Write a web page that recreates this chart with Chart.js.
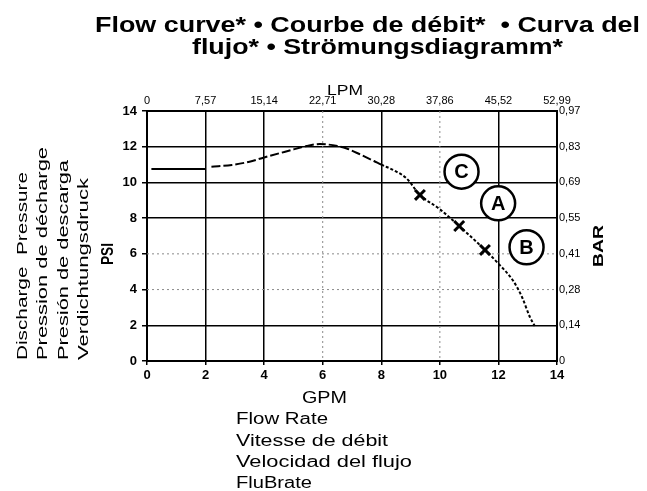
<!DOCTYPE html>
<html>
<head>
<meta charset="utf-8">
<script src="https://cdn.jsdelivr.net/npm/chart.js@4"></script>
<style>
body{margin:0;background:#fff}
</style>
</head>
<body>
<canvas id="chart" width="647" height="491"></canvas>
<script>
// GPM on x, PSI on y
const lpmLabels=["0","7,57","15,14","22,71","30,28","37,86","45,52","52,99"]
const barLabels=["0","0,14","0,28","0,41","0,55","0,69","0,83","0,97"]

const flatX=[0.15,2.0]
const flatY=[10.75,10.75]

const curveX=[2.2,2.9,3.5,4.0,4.9,5.45,5.9,6.5,6.82,7.3,7.75,8.0,8.5,8.86,9.32,10.0,10.66,11.54,12.0,12.5,12.8,13.07,13.24]
const curveY=[10.88,10.98,11.16,11.4,11.8,12.04,12.15,12.04,11.9,11.55,11.2,11.0,10.62,10.23,9.3,8.5,7.56,6.22,5.45,4.5,3.6,2.48,1.96]

const markX=[9.32,10.66,11.54]
const markY=[9.3,7.56,6.22]

const circleText=["C","A","B"]
const circleX=[10.74,11.99,12.96]
const circleY=[10.6,8.83,6.37]

const strongX=[2,4,8,12]
const strongY=[2,8,10,12]
const faintX=[6,10]
const faintY=[4,6]

const FONT='"Liberation Sans", Arial, sans-serif'

function pts(xs,ys){return xs.map((x,i)=>({x:x,y:ys[i]}))}

// draw text squeezed/stretched to a given width
function fitText(ctx,txt,x,y,w,font,rot){
ctx.save()
ctx.translate(x,y)
if(rot) ctx.rotate(rot)
ctx.font=font
ctx.fillStyle="#000"
ctx.textAlign="left"
ctx.textBaseline="alphabetic"
let m=ctx.measureText(txt).width
ctx.scale(w/m,1)
ctx.fillText(txt,0,0)
ctx.restore()
}

const extras={
id:"extras",
beforeDatasetsDraw(chart){
let c=chart.ctx, a=chart.chartArea, sx=chart.scales.x, sy=chart.scales.y
c.save()
c.strokeStyle="#8a8a8a"
c.lineWidth=1
c.setLineDash([2,3])
faintX.forEach(v=>{
let px=sx.getPixelForValue(v)
c.beginPath();c.moveTo(px,a.top);c.lineTo(px,a.bottom);c.stroke()
})
faintY.forEach(v=>{
let py=sy.getPixelForValue(v)
c.beginPath();c.moveTo(a.left,py);c.lineTo(a.right,py);c.stroke()
})
c.restore()
},
afterDatasetsDraw(chart){
let c=chart.ctx, sx=chart.scales.x, sy=chart.scales.y
c.save()
c.font="bold 20px "+FONT
c.fillStyle="#000"
c.textAlign="center"
c.textBaseline="middle"
circleText.forEach((t,i)=>{
c.fillText(t,sx.getPixelForValue(circleX[i]),sy.getPixelForValue(circleY[i])+1)
})
c.restore()
},
afterDraw(chart){
let c=chart.ctx
let up=-Math.PI/2
fitText(c,"Flow curve* • Courbe de débit*  • Curva del",95,32,545,"bold 22px "+FONT)
fitText(c,"flujo* • Strömungsdiagramm*",192,54,371,"bold 22px "+FONT)
fitText(c,"LPM",327,95,36,"15px "+FONT)
fitText(c,"GPM",302,403,45,"16px "+FONT)
fitText(c,"Flow Rate",236,424,92,"16px "+FONT)
fitText(c,"Vitesse de débit",236,446,152,"16px "+FONT)
fitText(c,"Velocidad del flujo",236,467,176,"16px "+FONT)
fitText(c,"FluBrate",236,488,76,"16px "+FONT)
fitText(c,"Discharge  Pressure",27,360,188,"15px "+FONT,up)
fitText(c,"Pression de décharge",47,360,213,"15px "+FONT,up)
fitText(c,"Presión de descarga",68,360,200,"15px "+FONT,up)
fitText(c,"Verdichtungsdruck",88,360,182,"15px "+FONT,up)
fitText(c,"PSI",113,265,22,"bold 17px "+FONT,up)
fitText(c,"BAR",603,267,42,"bold 15px "+FONT,up)
}
}

let chart=new Chart(document.getElementById("chart"),{
type:"scatter",
data:{
datasets:[
{data:pts(flatX,flatY),showLine:true,borderColor:"#000",borderWidth:2,pointRadius:0},
{data:pts(curveX,curveY),showLine:true,borderColor:"#000",borderWidth:2,pointRadius:0,
cubicInterpolationMode:"monotone",borderDash:[9,3],
segment:{borderDash:s=>s.p0.parsed.x>=8?[3,2]:[9,3]}},
{data:pts(markX,markY),pointStyle:"crossRot",pointRadius:7,borderWidth:3,borderColor:"#000"},
{data:pts(circleX,circleY),pointStyle:"circle",pointRadius:17,borderWidth:2.5,borderColor:"#000",backgroundColor:"#fff"}
]
},
options:{
responsive:false,
animation:false,
layout:{padding:0},
plugins:{legend:{display:false},tooltip:{enabled:false}},
scales:{
x:{
type:"linear",position:"bottom",min:0,max:14,
ticks:{stepSize:2,color:"#000",padding:3,font:{family:FONT,size:13,weight:"bold"}},
grid:{color:c=>strongX.includes(c.tick.value)?"#000":"rgba(0,0,0,0)",lineWidth:1.5,tickLength:4,tickColor:"#000"},
border:{color:"#000",width:2},
afterFit:s=>{s.height=130}
},
x2:{
type:"linear",position:"top",min:0,max:14,
ticks:{stepSize:2,color:"#000",padding:3,font:{family:FONT,size:11},callback:v=>lpmLabels[Math.round(v/2)]},
grid:{drawOnChartArea:false,drawTicks:false},
border:{color:"#000",width:2},
afterFit:s=>{s.height=111}
},
y:{
type:"linear",position:"left",min:0,max:14,
ticks:{stepSize:2,color:"#000",padding:5,font:{family:FONT,size:13,weight:"bold"}},
grid:{color:c=>strongY.includes(c.tick.value)?"#000":"rgba(0,0,0,0)",lineWidth:1.5,tickLength:5,tickColor:"#000"},
border:{color:"#000",width:2},
afterFit:s=>{s.width=147}
},
y2:{
type:"linear",position:"right",min:0,max:14,
ticks:{stepSize:2,color:"#000",padding:2,font:{family:FONT,size:11},callback:v=>barLabels[Math.round(v/2)]},
grid:{drawOnChartArea:false,drawTicks:false},
border:{color:"#000",width:2},
afterFit:s=>{s.width=90}
}
}
},
plugins:[extras]
})
</script>
</body>
</html>
